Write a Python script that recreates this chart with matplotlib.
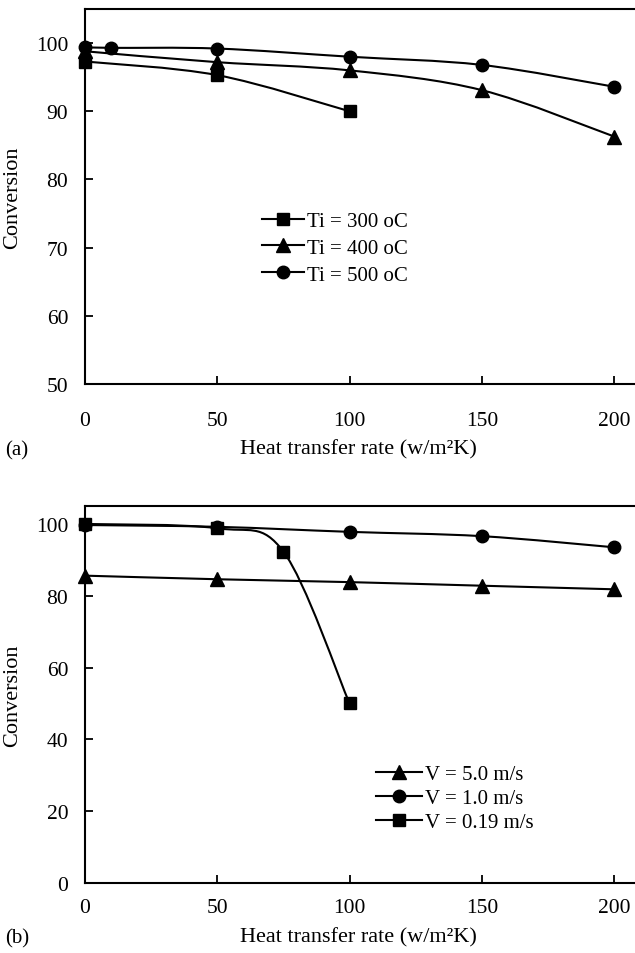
import numpy as np
import matplotlib
matplotlib.use("Agg")
import matplotlib.pyplot as plt
from matplotlib.path import Path
from matplotlib.patches import PathPatch
from matplotlib.lines import Line2D

plt.rcParams['font.family'] = ['Liberation Serif', 'DejaVu Serif']

# ---- Data: panel (a) ----
a_x300 = [0, 50, 100]
a_y300 = [97.3, 95.3, 90.0]
a_x400 = [0, 50, 100, 150, 200]
a_y400 = [98.8, 97.2, 96.0, 93.1, 86.3]
a_x500 = [0, 10, 50, 100, 150, 200]
a_y500 = [99.4, 99.3, 99.2, 98.0, 96.8, 93.6]
a_labels = ["Ti = 300 oC", "Ti = 400 oC", "Ti = 500 oC"]

# ---- Data: panel (b) ----
b_x5 = [0, 50, 100, 150, 200]
b_y5 = [85.6, 84.6, 83.8, 82.8, 81.8]
b_x1 = [0, 50, 100, 150, 200]
b_y1 = [99.7, 99.2, 97.8, 96.6, 93.5]
b_x019 = [0, 50, 75, 100]
b_y019 = [100.0, 98.8, 92.3, 50.0]
b_labels = ["V = 5.0 m/s", "V = 1.0 m/s", "V = 0.19 m/s"]

xticks = [0, 50, 100, 150, 200]
a_yticks = [50, 60, 70, 80, 90, 100]
b_yticks = [0, 20, 40, 60, 80, 100]


def smooth(ax, x, y, lw=1.5):
    pts = np.column_stack([x, y]).astype(float)
    n = len(pts)
    verts = [pts[0]]
    codes = [Path.MOVETO]
    for i in range(n - 1):
        p0 = pts[i - 1] if i > 0 else pts[i]
        p1 = pts[i]
        p2 = pts[i + 1]
        p3 = pts[i + 2] if i + 2 < n else pts[i + 1]
        c1 = p1 + (p2 - p0) / 6.0
        c2 = p2 - (p3 - p1) / 6.0
        verts += [c1, c2, p2]
        codes += [Path.CURVE4] * 3
    ax.add_patch(PathPatch(Path(verts, codes), fill=False, edgecolor='black', lw=lw, zorder=2))


def style(ax, yticks, ylim, xpad):
    ax.set_xlim(0, 209.8)
    ax.set_ylim(*ylim)
    ax.set_xticks(xticks)
    ax.set_yticks(yticks)
    ax.spines['right'].set_visible(False)
    for s in ['left', 'bottom', 'top']:
        ax.spines[s].set_linewidth(1.5)
    ax.tick_params(direction='in', length=6, width=1.3, labelsize=15.5)
    ax.tick_params(axis='x', pad=xpad)
    ax.tick_params(axis='y', pad=12)
    ax.set_ylabel("Conversion", fontsize=16, labelpad=10)


fig = plt.figure(figsize=(6.35, 9.54), dpi=100)
L = 85 / 635
W = (640 - 85) / 635
ax1 = fig.add_axes([L, 1 - 385 / 954, W, (385 - 10) / 954])
ax2 = fig.add_axes([L, 1 - 884 / 954, W, (884 - 507) / 954])

ms = 9
# panel a
for x, y, m, msz in [(a_x300, a_y300, 's', ms), (a_x400, a_y400, '^', ms + 1), (a_x500, a_y500, 'o', ms)]:
    smooth(ax1, x, y)
    ax1.plot(x, y, ls='none', marker=m, ms=msz, color='black', zorder=3, clip_on=False)
style(ax1, a_yticks, (50, 105), 19.5)
h1 = [Line2D([], [], color='black', lw=1.5, marker=m, ms=msz) for m, msz in [('s', ms), ('^', ms + 1), ('o', ms)]]
ax1.legend(h1, a_labels, loc='upper left', bbox_to_anchor=((254 - 85) / 555, (385 - 204) / 375),
           frameon=False, fontsize=15, handlelength=2.0, handletextpad=0.15, labelspacing=0.35,
           borderaxespad=0)

# panel b
for x, y, m, msz in [(b_x5, b_y5, '^', ms + 1), (b_x1, b_y1, 'o', ms), (b_x019, b_y019, 's', ms)]:
    smooth(ax2, x, y)
    ax2.plot(x, y, ls='none', marker=m, ms=msz, color='black', zorder=3, clip_on=False)
style(ax2, b_yticks, (0, 105), 10.5)
h2 = [Line2D([], [], color='black', lw=1.5, marker=m, ms=msz) for m, msz in [('^', ms + 1), ('o', ms), ('s', ms)]]
ax2.legend(h2, b_labels, loc='upper left', bbox_to_anchor=((368 - 85) / 555, (884 - 757.5) / 377),
           frameon=False, fontsize=15, handlelength=2.2, handletextpad=0.15, labelspacing=0.2,
           borderaxespad=0)

for ytxt, tag in [(450, "(a)"), (938, "(b)")]:
    fig.text(358 / 635, 1 - ytxt / 954, "Heat transfer rate (w/m²K)", ha='center', va='center', fontsize=16)
    fig.text(5 / 635, 1 - (ytxt + 1) / 954, tag, ha='left', va='center', fontsize=15)

fig.savefig("out.png", dpi=100)
